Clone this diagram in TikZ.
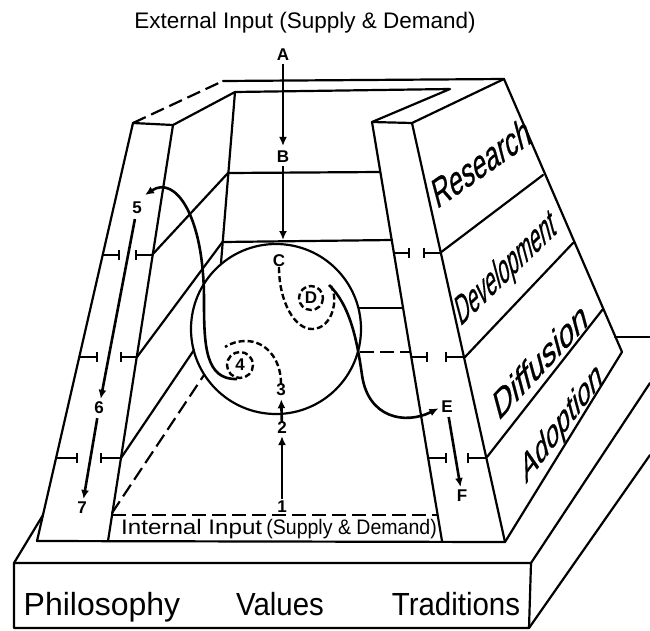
\documentclass[tikz,border=0pt]{standalone}
\usepackage{fontspec}
\setmainfont{Liberation Sans}
\newfontfamily\facefont[FakeBold=0.6]{Liberation Sans}
\usetikzlibrary{arrows.meta}
\begin{document}
\begin{tikzpicture}[x=1pt,y=-1pt,
  frame/.style={line width=2.2pt,line join=round,line cap=round},
  fdash/.style={line width=2.2pt,dash pattern=on 14pt off 6pt},
  flow/.style={line width=2.6pt,-{Latex[length=9pt,width=8pt]}},
  ring/.style={line width=2.4pt,dash pattern=on 6pt off 3pt},
  lbl/.style={inner sep=0pt,font=\fontsize{17}{17}\selectfont\bfseries},
  tickmark/.style={line width=1.8pt,-{Bar[width=10pt]}},
  plain/.style={inner sep=0pt}
]
\useasboundingbox (0,0) rectangle (650,630);

% ---------- top of the trough ----------
\draw[frame] (223,81) -- (504,79);
\draw[frame] (235,92) -- (450,89) -- (372,122) -- (412,123) -- (504,79) -- (622,352) -- (505,542);
\draw[frame] (133,123) -- (173,125) -- (235,92);
\draw[fdash] (133,123) -- (223,81);

% ---------- left wall ----------
\draw[frame] (133,123) -- (37,541) -- (505,542);
\draw[frame] (173,125) -- (108,541);

% ---------- right wall ----------
\draw[frame] (372,122) -- (442,541);
\draw[frame] (412,123) -- (505,542);
\draw[frame] (440,253) -- (543,175);
\draw[frame] (465,357) -- (573,243);
\draw[frame] (487,457) -- (603,309);

% ---------- back wall and levels ----------
\draw[frame] (235,92) -- (221,263);
\draw[frame] (228,173) -- (380,172);
\draw[frame] (222.5,242) -- (392,240);
\draw[frame] (228,173) -- (152,255);
\draw[frame] (222.5,242) -- (137,357);
\draw[frame] (359,308) -- (403,308);
\draw[frame] (194,350) -- (121,458);
\draw[fdash] (360,352) -- (411,352);
\draw[fdash] (112,513) -- (204,375);
\draw[fdash] (112,515) -- (438,515);

% ---------- circle ----------
\draw[frame] (276,329) circle[radius=85];

% ---------- ticks ----------
\draw[tickmark] (103,255) -- (120,255);
\draw[tickmark] (152,255) -- (135,255);
\draw[tickmark] (80,357) -- (98,357);
\draw[tickmark] (137,357) -- (120,357);
\draw[tickmark] (56,458) -- (78,458);
\draw[tickmark] (121,458) -- (100,458);
\draw[tickmark] (394,253) -- (410,253);
\draw[tickmark] (441,253) -- (423,253);
\draw[tickmark] (411,357) -- (428,357);
\draw[tickmark] (464,357) -- (445,357);
\draw[tickmark] (428,458) -- (447,458);
\draw[tickmark] (487,458) -- (467,458);

% ---------- base ----------
\draw[frame] (14,563) -- (531,563) -- (529,628) -- (14,628) -- cycle;
\draw[frame] (14,563) -- (43,515);
\draw[frame] (531,563) -- (650,383);
\draw[frame] (529,628) -- (650,455);
\draw[frame] (615,337) -- (650,337);

% ---------- labels ----------
\node[lbl] (A) at (283,55) {A};
\node[lbl] (B) at (283,157) {B};
\node[lbl] (C) at (279,261) {C};
\node[lbl] (D) at (311,298) {D};
\node[lbl] (E) at (447,407) {E};
\node[lbl] (F) at (462,496) {F};
\node[lbl] (n1) at (282,507) {1};
\node[lbl] (n2) at (282,428) {2};
\node[lbl] (n3) at (281,390) {3};
\node[lbl] (n4) at (240,365) {4};
\node[lbl] (n5) at (137,208) {5};
\node[lbl] (n6) at (99,408) {6};
\node[lbl] (n7) at (82,508) {7};

\coordinate (ctop) at (283,240);
\coordinate (d4) at (237,379);
\coordinate (t5) at (145,195);
\coordinate (dout) at (329,285);

% ---------- flows ----------
\draw[flow,shorten <=3pt,shorten >=5pt] (A) -- (B);
\draw[flow,shorten <=3pt] (B) -- (ctop);
\draw[flow,shorten <=2pt,shorten >=2pt] (n1) -- (n2);
\draw[flow,shorten >=3pt] (n2) -- (n3);
\draw[flow,shorten <=5pt,shorten >=3pt] (n5) -- (n6);
\draw[flow,shorten <=4pt,shorten >=3pt] (n6) -- (n7);
\draw[flow,shorten <=4pt,shorten >=3pt] (E) -- (F);
\draw[flow] (d4) .. controls (205,380) and (204,345) .. (204,300)
  .. controls (204,215) and (175,175) .. (t5);
\draw[flow,shorten >=3pt] (dout) .. controls (350,305) and (357,340) .. (362,375)
  .. controls (368,418) and (405,425) .. (E.west);

% ---------- dashed spirals ----------
\draw[ring] (C.south) .. controls (279,302) and (295,330) .. (313,329)
  .. controls (332,328) and (339,300) .. (331,286);
\draw[ring] (D) circle[radius=12];
\draw[ring] (n4) circle[radius=13];
\draw[ring] (n3.north) .. controls (281,358) and (265,341) .. (246,341)
  .. controls (238,341) and (231,343) .. (225,347);

% ---------- texts ----------
\node[plain,anchor=base] (ext) at (305,28) {\fontsize{22.5}{24}\selectfont External Input (Supply \& Demand)};
\node[plain,anchor=base west] (int1) at (121,534) {\fontsize{21}{24}\selectfont\scalebox{1.15}[1]{Internal Input}};
\node[plain,anchor=base east] (int2) at (437,534) {\fontsize{21}{24}\selectfont\scalebox{0.93}[1]{(Supply \& Demand)}};
\node[plain,anchor=base] (phil) at (102,615) {\fontsize{32}{34}\selectfont Philosophy};
\node[plain,anchor=base] (val) at (280,615) {\fontsize{32}{34}\selectfont\scalebox{0.92}[1]{Values}};
\node[plain,anchor=base] (trad) at (456,615) {\fontsize{32}{34}\selectfont\scalebox{0.92}[1]{Traditions}};

\begin{scope}[shift={(481,162)}]
  \node[plain,cm={0.557,0.390,-0.259,0.966,(0,0)}] (res) at (0,0) {\facefont\fontsize{40}{40}\selectfont Research};
\end{scope}
\begin{scope}[shift={(506,270)}]
  \node[plain,cm={0.410,0.396,-0.259,0.966,(0,0)}] (dev) at (0,0) {\facefont\fontsize{40}{40}\selectfont Development};
\end{scope}
\begin{scope}[shift={(540,360)}]
  \node[plain,cm={0.614,0.658,-0.259,0.966,(0,0)}] (dif) at (0,0) {\facefont\fontsize{38}{38}\selectfont Diffusion};
\end{scope}
\begin{scope}[shift={(562,424)}]
  \node[plain,cm={0.542,0.719,-0.259,0.966,(0,0)}] (ado) at (0,0) {\facefont\fontsize{36}{36}\selectfont Adoption};
\end{scope}
\end{tikzpicture}
\end{document}
